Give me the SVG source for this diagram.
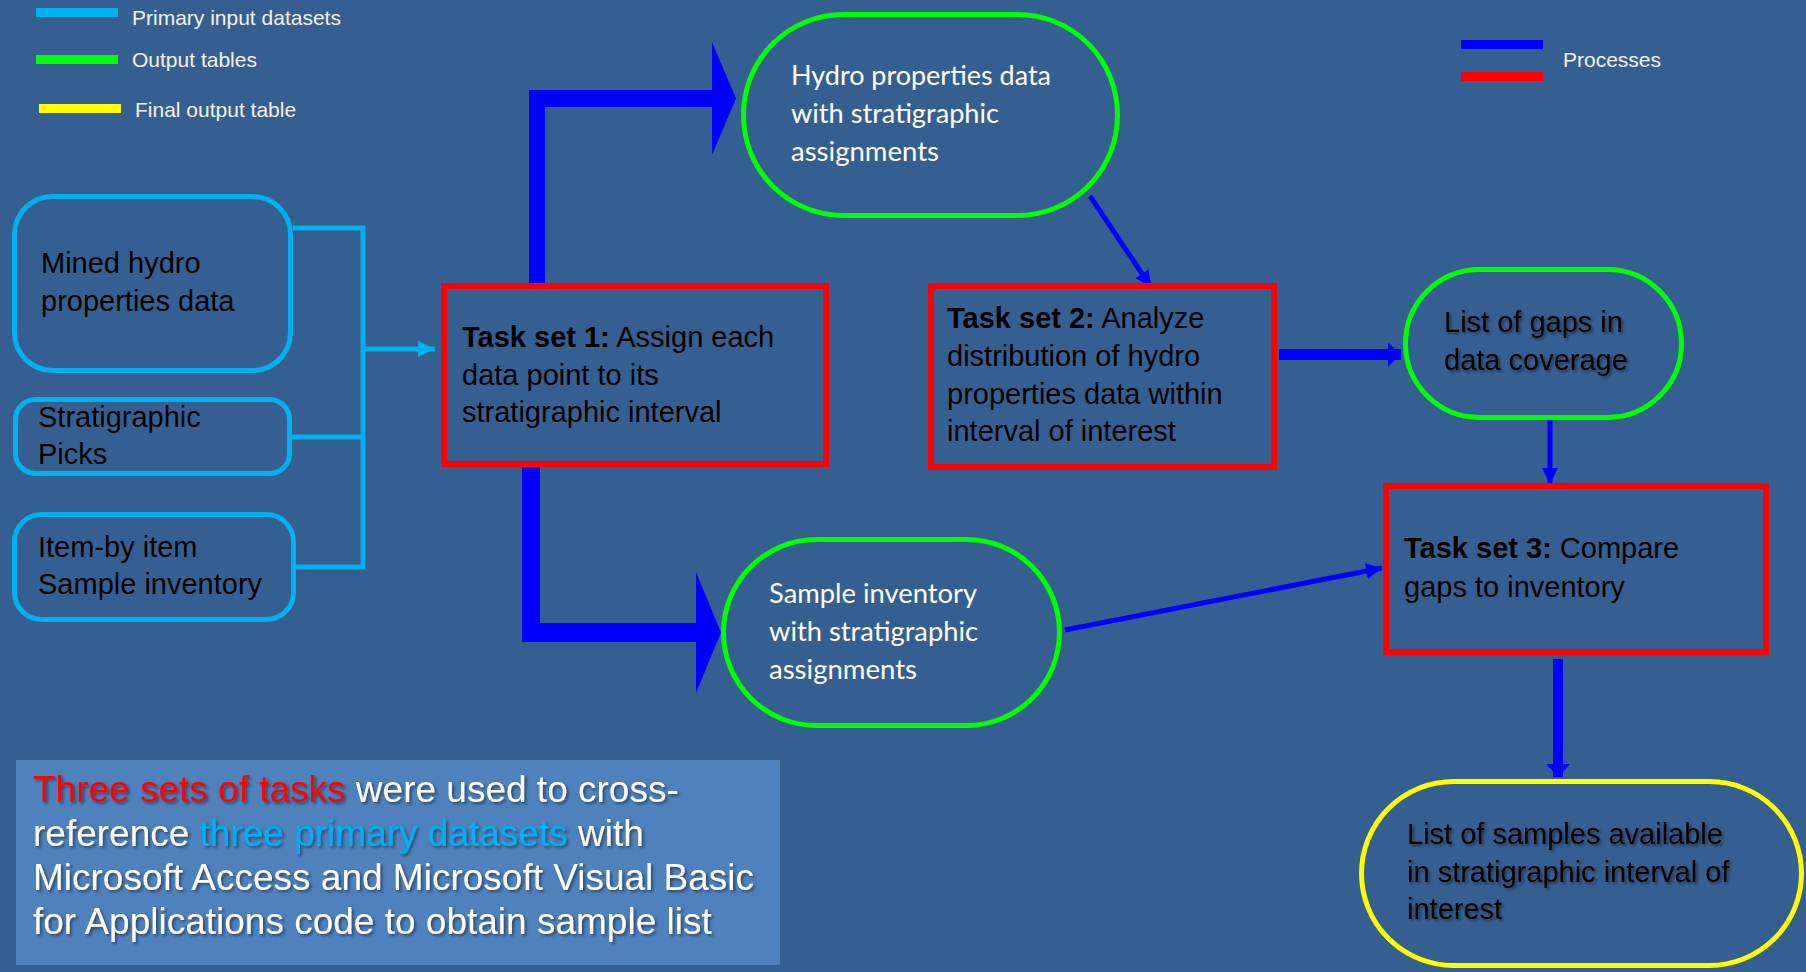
<svg xmlns="http://www.w3.org/2000/svg" width="1806" height="972" viewBox="0 0 1806 972">
<style>
.arial{font-family:"Liberation Sans",Arial,sans-serif}
.calibri{font-family:Lato,"Open Sans",sans-serif;fill:#FFFFFF;font-size:26px}
.legend{font-family:"Liberation Sans",Arial,sans-serif;font-size:21px;fill:#F2F2F2}
.input{fill:none;stroke:#00B0F0;stroke-width:5}
.task{fill:none;stroke:#FF0000;stroke-width:6}
.out{fill:none;stroke:#00FF00;stroke-width:5}
.final{fill:none;stroke:#FFFF00;stroke-width:5}
.dark{font-family:"Liberation Sans",Arial,sans-serif;font-size:29px;fill:#000000}
.b{font-weight:bold}
.conn-cyan{fill:none;stroke:#00B0F0;stroke-width:5}
.conn-blue{fill:none;stroke:#0000FF;stroke-width:5}
</style>
<defs>
<filter id="shadow" x="-10%" y="-20%" width="120%" height="150%">
<feDropShadow dx="2" dy="2" stdDeviation="1.5" flood-color="#000000" flood-opacity="0.45"/>
</filter>
<marker id="ahCyan" viewBox="0 0 17 16" refX="17" refY="8" markerWidth="17" markerHeight="16" markerUnits="userSpaceOnUse" orient="auto"><path d="M0,0 L17,8 L0,16 z" fill="#00B0F0"/></marker>
<marker id="ahBlue" viewBox="0 0 16 16" refX="16" refY="8" markerWidth="16" markerHeight="16" markerUnits="userSpaceOnUse" orient="auto"><path d="M0,0 L16,8 L0,16 z" fill="#0000FF"/></marker>
<marker id="ahBlueWide" viewBox="0 0 13 24" refX="13" refY="12" markerWidth="13" markerHeight="24" markerUnits="userSpaceOnUse" orient="auto"><path d="M0,0 L13,12 L0,24 z" fill="#0000FF"/></marker>
</defs>
<rect x="0" y="0" width="1806" height="972" fill="#365F91"/>

<g id="legend">
<rect x="36" y="8" width="82" height="9" fill="#00B0F0"/>
<text class="legend" x="132" y="25">Primary input datasets</text>
<rect x="36" y="55" width="82" height="9" fill="#00FF00"/>
<text class="legend" x="132" y="67">Output tables</text>
<rect x="39" y="104" width="82" height="9" fill="#FFFF00"/>
<text class="legend" x="135" y="117">Final output table</text>
<rect x="1461" y="40" width="82" height="9" fill="#0000FF"/>
<rect x="1461" y="72" width="82" height="9" fill="#FF0000"/>
<text class="legend" x="1563" y="67">Processes</text>
</g>

<g id="connectors">
<polyline class="conn-cyan" points="293,228 363,228 363,567 296,567"/>
<line class="conn-cyan" x1="292" y1="437" x2="363" y2="437"/>
<line class="conn-cyan" x1="363" y1="349" x2="435" y2="349" marker-end="url(#ahCyan)"/>
<polygon points="529,283 529,90 712,90 712,42 736,98.5 712,155 712,107 545,107 545,283" fill="#0000FF"/>
<polygon points="522,467 522,642 696,642 696,693 721,632.5 696,572 696,623 540,623 540,467" fill="#0000FF"/>
<line class="conn-blue" x1="1090" y1="196" x2="1151" y2="287" marker-end="url(#ahBlue)"/>
<line x1="1279" y1="354.5" x2="1401" y2="354.5" stroke="#0000FF" stroke-width="11" marker-end="url(#ahBlueWide)"/>
<line class="conn-blue" x1="1550" y1="420" x2="1550" y2="484" marker-end="url(#ahBlue)"/>
<line class="conn-blue" x1="1065" y1="630" x2="1382" y2="568" marker-end="url(#ahBlue)"/>
<line x1="1558" y1="659" x2="1558" y2="777" stroke="#0000FF" stroke-width="10" marker-end="url(#ahBlueWide)"/>
</g>

<g id="mined-hydro">
<rect class="input" x="14.5" y="196.5" width="276" height="174" rx="38"/>
<text class="dark" x="41" y="273">Mined hydro</text>
<text class="dark" x="41" y="311">properties data</text>
</g>
<g id="strat-picks">
<rect class="input" x="15.5" y="399.5" width="274" height="74" rx="20"/>
<text class="dark" x="38" y="427">Stratigraphic</text>
<text class="dark" x="38" y="464">Picks</text>
</g>
<g id="sample-inventory">
<rect class="input" x="14.5" y="514.5" width="279" height="105" rx="27"/>
<text class="dark" x="38" y="557">Item-by item</text>
<text class="dark" x="38" y="594">Sample inventory</text>
</g>

<g id="task1">
<rect class="task" x="444" y="286" width="382" height="178"/>
<text class="dark" x="462" y="347"><tspan class="b">Task set 1:</tspan> Assign each</text>
<text class="dark" x="462" y="385">data point to its</text>
<text class="dark" x="462" y="422">stratigraphic interval</text>
</g>

<g id="hydro-strat">
<rect class="out" x="743.5" y="14.5" width="374" height="201" rx="100"/>
<text class="calibri" x="791" y="85" textLength="260" lengthAdjust="spacingAndGlyphs">Hydro properties data</text>
<text class="calibri" x="791" y="123" textLength="208" lengthAdjust="spacingAndGlyphs">with stratigraphic</text>
<text class="calibri" x="791" y="161" textLength="148" lengthAdjust="spacingAndGlyphs">assignments</text>
</g>

<g id="task2">
<rect class="task" x="931" y="286" width="343" height="181"/>
<text class="dark" x="947" y="328"><tspan class="b">Task set 2:</tspan> Analyze</text>
<text class="dark" x="947" y="366">distribution of hydro</text>
<text class="dark" x="947" y="404">properties data within</text>
<text class="dark" x="947" y="441">interval of interest</text>
</g>

<g id="gaps">
<rect class="out" x="1405.5" y="269.5" width="276" height="148" rx="74"/>
<text class="dark" x="1444" y="332" filter="url(#shadow)">List of gaps in</text>
<text class="dark" x="1444" y="370" filter="url(#shadow)">data coverage</text>
</g>

<g id="sample-strat">
<rect class="out" x="723.5" y="539.5" width="336" height="186" rx="93"/>
<text class="calibri" x="769" y="603" textLength="208" lengthAdjust="spacingAndGlyphs">Sample inventory</text>
<text class="calibri" x="769" y="641" textLength="209" lengthAdjust="spacingAndGlyphs">with stratigraphic</text>
<text class="calibri" x="769" y="679" textLength="148" lengthAdjust="spacingAndGlyphs">assignments</text>
</g>

<g id="task3">
<rect class="task" x="1386" y="486" width="380" height="166"/>
<text class="dark" x="1404" y="558"><tspan class="b">Task set 3:</tspan> Compare</text>
<text class="dark" x="1404" y="597">gaps to inventory</text>
</g>

<g id="final">
<rect class="final" x="1361.5" y="781.5" width="440" height="184" rx="92"/>
<text class="dark" x="1407" y="844" filter="url(#shadow)">List of samples available</text>
<text class="dark" x="1407" y="882" filter="url(#shadow)">in stratigraphic interval of</text>
<text class="dark" x="1407" y="919" filter="url(#shadow)">interest</text>
</g>

<g id="summary">
<rect x="16" y="760" width="764" height="205" fill="#4F81BD"/>
<g class="arial" font-size="37" fill="#FFFFFF" filter="url(#shadow)">
<text x="33" y="802"><tspan fill="#FF0000">Three sets of tasks</tspan> were used to cross-</text>
<text x="33" y="846">reference <tspan fill="#00B0F0">three primary datasets</tspan> with</text>
<text x="33" y="890">Microsoft Access and Microsoft Visual Basic</text>
<text x="33" y="934">for Applications code to obtain sample list</text>
</g>
</g>
</svg>
